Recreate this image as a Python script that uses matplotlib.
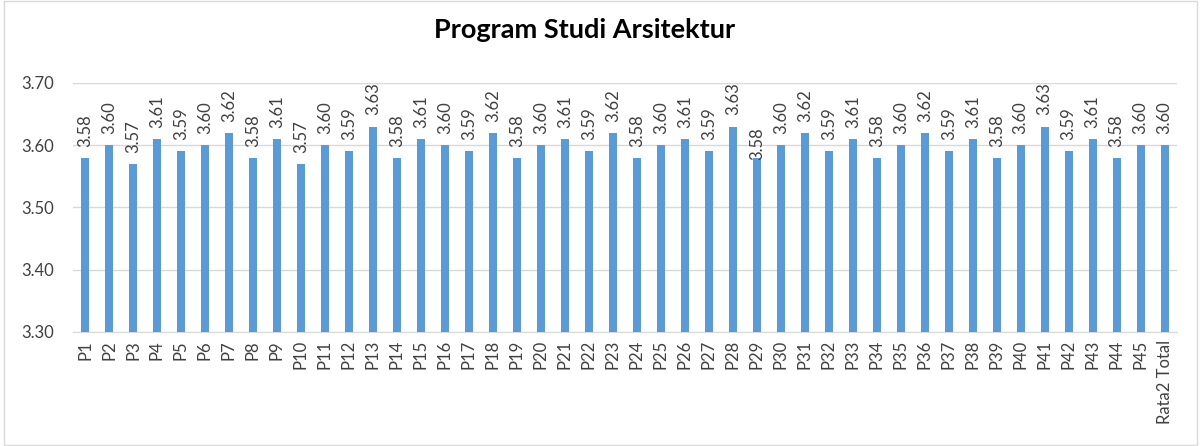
import numpy as np
import matplotlib.pyplot as plt
from matplotlib.patches import Rectangle

categories = ["P%d" % i for i in range(1, 46)] + ["Rata2 Total"]
scores = [3.58, 3.60, 3.57, 3.61, 3.59, 3.60, 3.62, 3.58, 3.61, 3.57,
          3.60, 3.59, 3.63, 3.58, 3.61, 3.60, 3.59, 3.62, 3.58, 3.60,
          3.61, 3.59, 3.62, 3.58, 3.60, 3.61, 3.59, 3.63, 3.58, 3.60,
          3.62, 3.59, 3.61, 3.58, 3.60, 3.62, 3.59, 3.61, 3.58, 3.60,
          3.63, 3.59, 3.61, 3.58, 3.60, 3.60]
yticks = [3.30, 3.40, 3.50, 3.60, 3.70]

plt.rcParams['font.family'] = ['Lato', 'DejaVu Sans']

fig = plt.figure(figsize=(12.01, 4.46), dpi=100)
ax = fig.add_axes([0.0608, 0.256, 0.919, 0.558])

x = np.arange(len(categories))
ax.bar(x, scores, width=0.34, color="#5B9BD5", zorder=3)

# excel pushed the P29 label down onto its bar
label_shift = {"P29": -10}
for xi, cat, v in zip(x, categories, scores):
    ax.annotate("%.2f" % v, (xi, v), xytext=(0, 8 + label_shift.get(cat, 0)),
                textcoords="offset points", rotation=90, ha="center",
                va="bottom", fontsize=12, color="#404040", zorder=4)

ax.set_ylim(3.30, 3.70)
ax.set_yticks(yticks)
ax.set_yticklabels(["%.2f" % t for t in yticks])
ax.set_xlim(-0.5, len(categories) - 0.5)
ax.set_xticks(x)
ax.set_xticklabels(categories, rotation=90)
ax.tick_params(axis="both", length=0, labelsize=12, labelcolor="#404040")
ax.tick_params(axis="y", pad=14)
ax.tick_params(axis="x", pad=6)
ax.grid(axis="y", color="#D9D9D9", linewidth=1, zorder=0)
for s in ["left", "right", "top"]:
    ax.spines[s].set_visible(False)
ax.spines["bottom"].set_color("#D9D9D9")

fig.text(0.487, 0.933, "Program Studi Arsitektur", ha="center", va="center",
         fontsize=19.5, fontweight="bold", color="#000000")

fig.patches.append(Rectangle((0.003, 0.003), 0.994, 0.994, transform=fig.transFigure,
                             fill=False, edgecolor="#D9D9D9", linewidth=1))

fig.savefig("out.png", dpi=100)
